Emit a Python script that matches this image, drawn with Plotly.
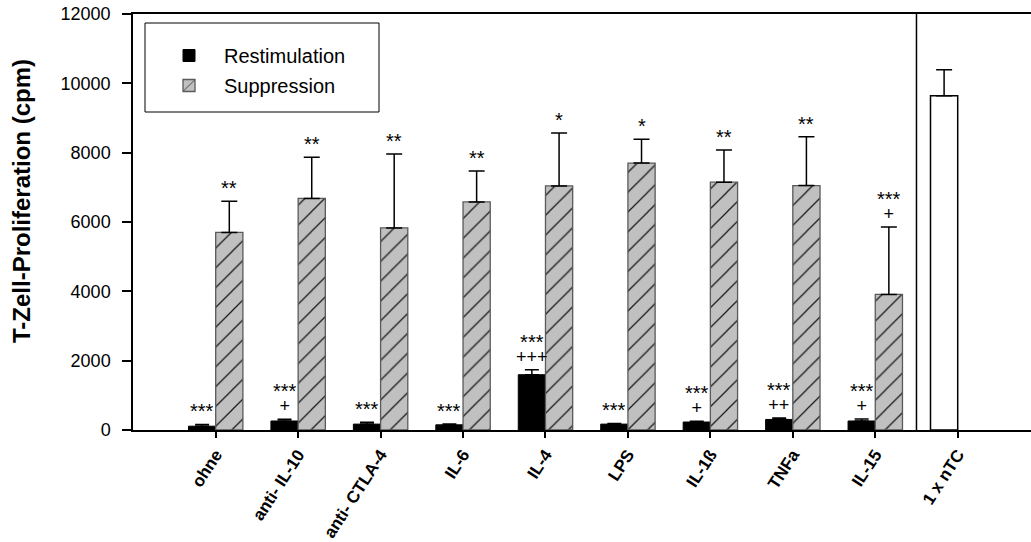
import plotly.graph_objects as go

# ---- data ----
categories = ["ohne", "anti- IL-10", "anti- CTLA-4", "IL-6", "IL-4", "LPS", "IL-1ß", "TNFa", "IL-15", "1 x nTC"]
restim = [110, 260, 170, 150, 1595, 170, 230, 305, 260]
restim_err = [50, 50, 50, 20, 145, 20, 20, 40, 55]
suppr = [5700, 6680, 5830, 6580, 7040, 7700, 7150, 7050, 3910]
suppr_err = [900, 1190, 2130, 890, 1530, 690, 930, 1410, 1945]
ntc_value = [9640]
ntc_err = [750]

# significance marks: stars and plus signs (empty = none)
restim_stars = ["***", "***", "***", "***", "***", "***", "***", "***", "***"]
restim_plus = ["", "+", "", "", "+++", "", "+", "++", "+"]
suppr_stars = ["**", "**", "**", "**", "*", "*", "**", "**", "***"]
suppr_plus = ["", "", "", "", "", "", "", "", "+"]

yticks = [0, 2000, 4000, 6000, 8000, 10000, 12000]
ytick_text = ["0", "2000", "4000", "6000", "8000", "10000", "12000"]

FONT = "Liberation Sans, Arial, sans-serif"
W = 0.33
n = len(restim)
xs = list(range(n))

fig = go.Figure()

fig.add_trace(go.Bar(
    x=xs, y=restim, name="Restimulation", width=W, offset=-W,
    marker=dict(color="black", line=dict(color="black", width=1)),
    error_y=dict(type="data", array=restim_err, arrayminus=[0] * n, symmetric=False,
                 color="black", thickness=1.5, width=7),
    legendgroup="a",
))
fig.add_trace(go.Bar(
    x=xs, y=suppr, name="Suppression", width=W, offset=0,
    marker=dict(color="#c0c0c0", line=dict(color="#5a5a5a", width=1.3),
                pattern=dict(shape="/", bgcolor="#c0c0c0", fgcolor="#1a1a1a",
                             size=14, solidity=0.09, fillmode="replace")),
    error_y=dict(type="data", array=suppr_err, arrayminus=[0] * n, symmetric=False,
                 color="black", thickness=1.5, width=8),
    legendgroup="b",
))
fig.add_trace(go.Bar(
    x=[9], y=ntc_value, name="1 x nTC", width=W, offset=-W, showlegend=False,
    marker=dict(color="white", line=dict(color="black", width=1.5)),
    error_y=dict(type="data", array=ntc_err, arrayminus=[0], symmetric=False,
                 color="black", thickness=1.5, width=8),
))

# separator line between groups
fig.add_shape(type="line", xref="x", yref="paper", x0=8.5, x1=8.5, y0=0, y1=1,
              line=dict(color="black", width=1.5))

annos = []
for i in range(n):
    for xc, top, st, pl in ((i - W / 2, restim[i] + restim_err[i], restim_stars[i], restim_plus[i]),
                            (i + W / 2, suppr[i] + suppr_err[i], suppr_stars[i], suppr_plus[i])):
        if st and pl:
            txt = ("<span style='font-size:20px'>" + st + "</span><br>"
                   "<span style='font-size:18px'>" + pl + "</span>")
            annos.append(dict(x=xc, y=top, text=txt, showarrow=False, yanchor="bottom",
                              yshift=1, font=dict(family=FONT, size=11, color="black")))
        elif st:
            annos.append(dict(x=xc, y=top, text=st, showarrow=False, yanchor="middle",
                              yshift=13, font=dict(family=FONT, size=20, color="black")))

# y-axis title
annos.append(dict(x=0, xref="paper", xshift=-111, y=(430 - 201) / 416, yref="paper",
                  text="T-Zell-Proliferation (cpm)", textangle=-90, showarrow=False,
                  xanchor="center", yanchor="middle",
                  font=dict(family=FONT, size=24, color="black", weight="bold")))

# legend frame
fig.add_shape(type="rect", xref="paper", yref="paper",
              x0=(145 - 133) / 898, x1=(379 - 133) / 898,
              y0=(430 - 112) / 416, y1=(430 - 23) / 416,
              line=dict(color="black", width=1), fillcolor="white", layer="below")

fig.update_layout(
    width=1031, height=542,
    margin=dict(l=133, r=0, t=14, b=112),
    paper_bgcolor="white", plot_bgcolor="white",
    font=dict(family=FONT, color="black"),
    barmode="overlay",
    annotations=annos,
    legend=dict(x=(154 - 133) / 898, y=(430 - 36) / 416, xanchor="left", yanchor="top",
                bgcolor="rgba(0,0,0,0)", borderwidth=0, itemwidth=60,
                font=dict(family=FONT, size=20, color="black"), tracegroupgap=1),
    xaxis=dict(range=[-1.003, 9.889], tickmode="array", tickvals=list(range(len(categories))),
               ticktext=categories, tickangle=-57, ticks="outside", ticklen=6, tickwidth=1.5,
               tickcolor="black", showline=True, linecolor="black", linewidth=2, mirror=True,
               showgrid=False, zeroline=False, automargin=False,
               tickfont=dict(family=FONT, size=17, color="black", weight="bold")),
    yaxis=dict(range=[0, 12000], tickmode="array", tickvals=yticks, ticktext=ytick_text,
               ticks="outside", ticklen=9, ticklabelstandoff=8,
               tickwidth=1.5, tickcolor="black", showline=True, linecolor="black", linewidth=1.5,
               showgrid=False, zeroline=False, automargin=False,
               tickfont=dict(family=FONT, size=18, color="black")),
)

fig.write_html("out.html")
